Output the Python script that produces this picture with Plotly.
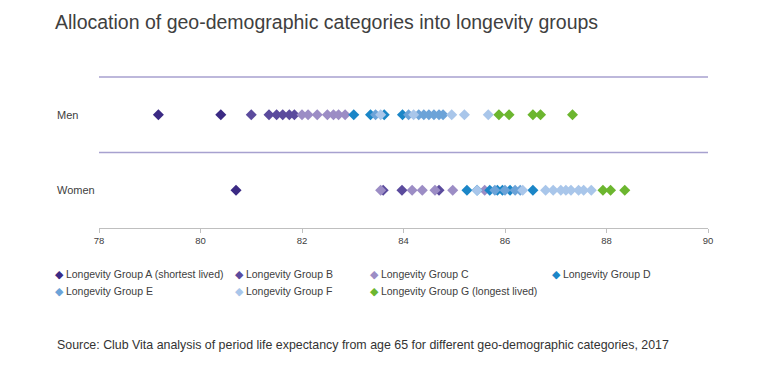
import plotly.graph_objects as go

title = "Allocation of geo-demographic categories into longevity groups"
source = "Source: Club Vita analysis of period life expectancy from age 65 for different geo-demographic categories, 2017"
rows = ["Women", "Men"]
x_ticks = [78, 80, 82, 84, 86, 88, 90]

groups = [
    "Longevity Group A (shortest lived)",
    "Longevity Group B",
    "Longevity Group C",
    "Longevity Group D",
    "Longevity Group E",
    "Longevity Group F",
    "Longevity Group G (longest lived)",
]
colors = ["#3b2a84", "#5b4b9d", "#9c8dc5", "#1b86c7", "#6ca3d8", "#a9c6ea", "#6cb62f"]

men_A = [79.17, 80.40]
men_B = [81.00, 81.35, 81.50, 81.62, 81.75, 81.85]
men_C = [82.00, 82.12, 82.30, 82.50, 82.62, 82.72, 82.85]
men_D = [83.02, 83.35, 83.62, 83.98]
men_E = [83.45, 84.10, 84.30, 84.40, 84.50, 84.60, 84.70, 84.78]
men_F = [83.55, 84.20, 84.95, 85.20, 85.67]
men_G = [85.88, 86.08, 86.55, 86.70, 87.33]

women_A = [80.70]
women_B = [83.60, 83.97, 84.70]
women_C = [83.55, 84.17, 84.37, 84.62, 84.97, 85.60]
women_D = [85.25, 85.45, 85.70, 85.85, 85.95, 86.10, 86.55]
women_E = [85.80, 86.00, 86.20, 86.30]
women_F = [85.45, 86.35, 86.80, 86.95, 87.10, 87.20, 87.30, 87.45, 87.55, 87.70]
women_G = [87.93, 88.08, 88.36]

men = [men_A, men_B, men_C, men_D, men_E, men_F, men_G]
women = [women_A, women_B, women_C, women_D, women_E, women_F, women_G]

fig = go.Figure()
for name, col, m, w in zip(groups, colors, men, women):
    xs = m + w
    ys = ["Men"] * len(m) + ["Women"] * len(w)
    fig.add_trace(go.Scatter(
        x=xs, y=ys, mode="markers", name=name, showlegend=False,
        marker=dict(symbol="diamond", size=8.5, color=col, line=dict(width=0)),
    ))

font = "Liberation Sans, Arial, sans-serif"

# page offset (body margin) of 8px
OFF = 8
W, H = 762, 368
L, R, T, B = 91, 62, 69, 148
pw, ph = W - L - R, H - T - B

# horizontal band lines (top of plot and between rows)
for yv in [1.0, 0.5]:
    fig.add_shape(type="line", xref="paper", x0=0, x1=1, yref="paper", y0=yv, y1=yv,
                  line=dict(color="#a7a1cf", width=1.5))

# row labels (left aligned)
for lab in ["Men", "Women"]:
    fig.add_annotation(text=lab, xref="paper", x=(55 - OFF - L) / pw, xanchor="left",
                       yref="y", y=lab, showarrow=False,
                       font=dict(family=font, size=11, color="#404040"))

# custom legend
leg_x = [57, 237, 372, 554]
leg_y = [274, 291]
for i, (name, col) in enumerate(zip(groups, colors)):
    r, c = divmod(i, 4)
    px, py = leg_x[c] - OFF, leg_y[r] - OFF
    fig.add_annotation(
        text=f'<span style="color:{col}">◆</span> {name}',
        xref="paper", yref="paper",
        x=(px - 4 - L) / pw, y=(H - B - py) / ph,
        xanchor="left", yanchor="middle", showarrow=False,
        font=dict(family=font, size=10.5, color="#404040"),
    )

fig.add_annotation(text=source, xref="paper", yref="paper",
                   x=(55 - OFF - L) / pw, y=(H - B - (345 - OFF)) / ph,
                   xanchor="left", yanchor="middle",
                   showarrow=False, font=dict(family=font, size=12.4, color="#333333"))

fig.update_layout(
    width=W, height=H,
    margin=dict(l=L, r=R, t=T, b=B),
    paper_bgcolor="white", plot_bgcolor="white",
    title=dict(text=title, x=(55 - OFF) / W, xanchor="left", y=1 - (22 - OFF) / H, yanchor="middle",
               font=dict(family=font, size=19.5, color="#404040")),
    xaxis=dict(range=[78, 90], tickvals=x_ticks, ticktext=[str(v) for v in x_ticks],
               showgrid=False, zeroline=False, showline=True, linecolor="#bfbfbf", linewidth=1,
               ticks="outside", ticklen=4, tickcolor="#bfbfbf",
               tickfont=dict(family=font, size=9.5, color="#404040")),
    yaxis=dict(categoryorder="array", categoryarray=rows, range=[-0.5, 1.5],
               showgrid=False, zeroline=False, showline=False, showticklabels=False),
)

fig.write_html("out.html")
